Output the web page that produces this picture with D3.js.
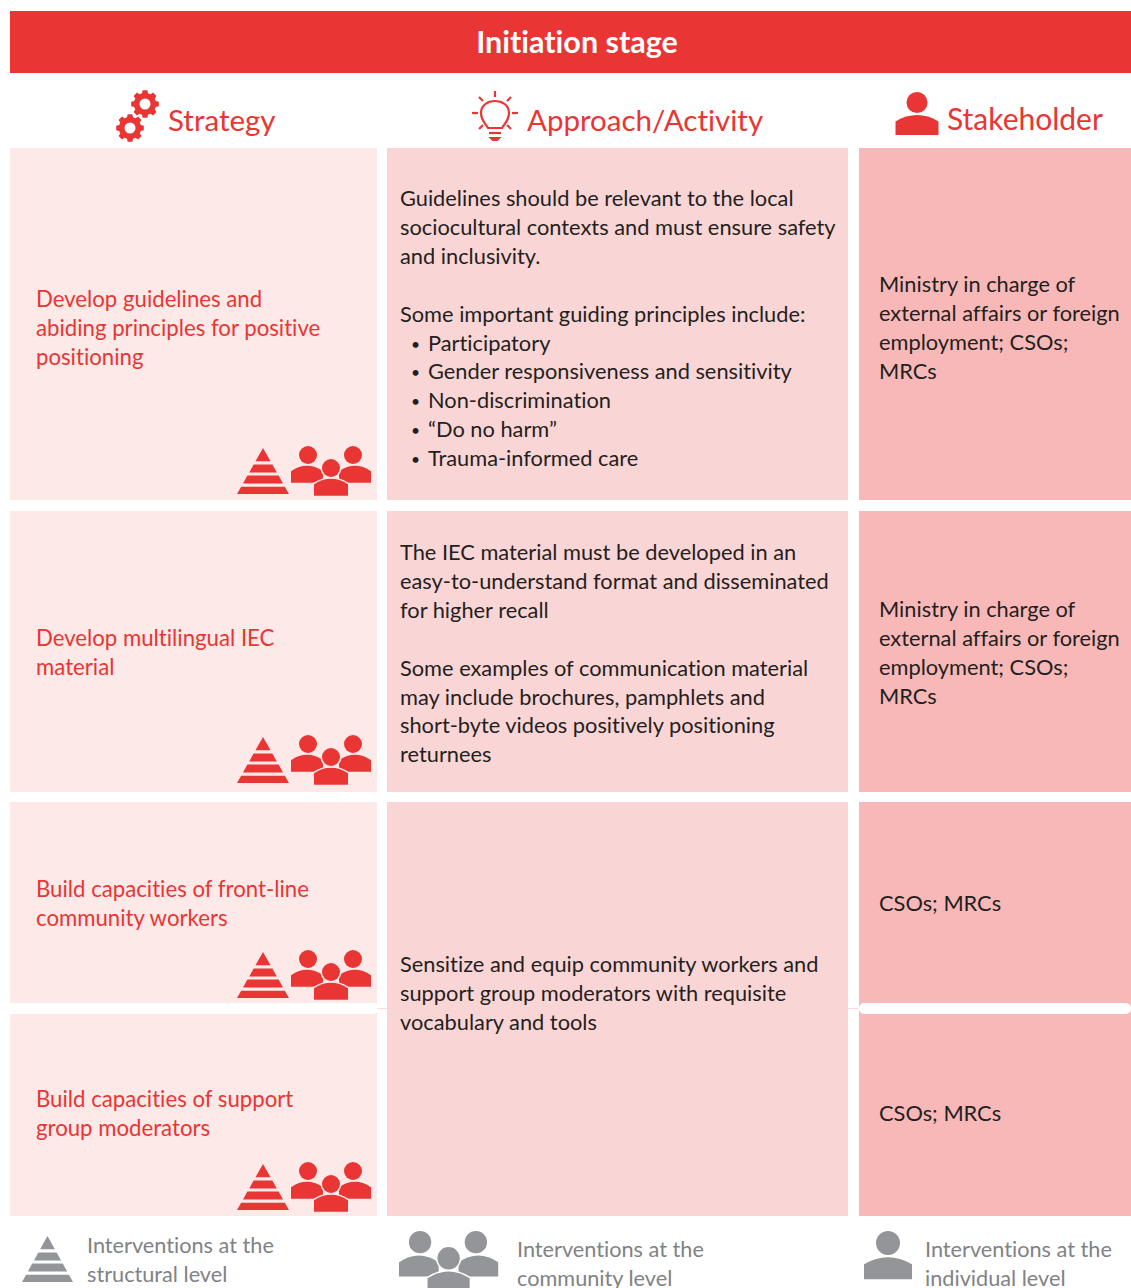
<!DOCTYPE html>
<html>
<head>
<meta charset="utf-8">
<script src="https://cdn.jsdelivr.net/npm/d3@7"></script>
<style>
html,body{margin:0;padding:0;background:#fff;overflow:hidden}
text{font-family:Lato,"Open Sans",sans-serif;font-variant-ligatures:none}
</style>
</head>
<body>
<div id="chart"></div>
<script>
var title = "Initiation stage";
var columns = ["Strategy", "Approach/Activity", "Stakeholder"];

var strategies = [
	["Develop guidelines and", "abiding principles for positive", "positioning"],
	["Develop multilingual IEC", "material"],
	["Build capacities of front-line", "community workers"],
	["Build capacities of support", "group moderators"]
];
var approaches = [
	["Guidelines should be relevant to the local", "sociocultural contexts and must ensure safety", "and inclusivity.", "",
	 "Some important guiding principles include:", "• Participatory", "• Gender responsiveness and sensitivity", "• Non-discrimination", "• “Do no harm”", "• Trauma-informed care"],
	["The IEC material must be developed in an", "easy-to-understand format and disseminated", "for higher recall", "",
	 "Some examples of communication material", "may include brochures, pamphlets and", "short-byte videos positively positioning", "returnees"],
	["Sensitize and equip community workers and", "support group moderators with requisite", "vocabulary and tools"]
];
var stakeholders = [
	["Ministry in charge of", "external affairs or foreign", "employment; CSOs;", "MRCs"],
	["Ministry in charge of", "external affairs or foreign", "employment; CSOs;", "MRCs"],
	["CSOs; MRCs"],
	["CSOs; MRCs"]
];
var legendLabels = [
	["Interventions at the", "structural level"],
	["Interventions at the", "community level"],
	["Interventions at the", "individual level"]
];

var RED = "#e93534", GREY = "#939598", INK = "#231f20", LEGEND_INK = "#808285";
var PALE = ["#fde9e8", "#fad5d6", "#f8b8b8"];
var LINE = 28.9, BODY = 21.8, STRAT = 22.2, LEG = 21.7;

// layout
var colX = d3.scaleOrdinal().domain(columns).range([10, 387, 859]);
var colW = d3.scaleOrdinal().domain(columns).range([367, 461, 272]);
var strategyY = [307, 646, 897, 1107];
var approachY = [206, 560, 972];
var stakeY = [292, 617, 911, 1121];
var iconY = [448, 737, 952, 1164];

var svg = d3.select("#chart").append("svg").attr("width", 1131).attr("height", 1288);

svg.append("rect").attr("x", 10).attr("y", 11).attr("width", 1121).attr("height", 62).attr("fill", RED);
svg.append("text").attr("x", 577).attr("y", 53).attr("text-anchor", "middle")
	.attr("fill", "#fff").attr("font-size", 30.5).attr("font-weight", 700).text(title);

// cells
function cell(col, idx, top, bottom){
	svg.append("rect").attr("x", colX(col)).attr("y", top)
		.attr("width", colW(col)).attr("height", bottom - top).attr("fill", PALE[idx]);
}
columns.forEach(function(c, i){
	cell(c, i, 148, 500);
	cell(c, i, 511, 792);
	cell(c, i, 802, 1216);
});
// row 3 and 4 share one block, split by white tabs with round ends
svg.append("rect").attr("x", 0).attr("y", 1003).attr("width", 378).attr("height", 11).attr("rx", 5).attr("fill", "#fff");
svg.append("rect").attr("x", 859).attr("y", 1003).attr("width", 272).attr("height", 11).attr("rx", 5).attr("fill", "#fff");
// faint hairline only in the gaps beside the middle column
[[377, 387], [848, 859]].forEach(function(g){
	svg.append("line").attr("x1", g[0]).attr("x2", g[1]).attr("y1", 1008.5).attr("y2", 1008.5).attr("stroke", "#fbdcdc").attr("stroke-width", 1);
});

function addLines(lines, x, y, color, size, step){
	lines.forEach(function(s, i){
		if(s == "") return;
		var yy = y + i*step;
		if(s.indexOf("• ") == 0){
			svg.append("text").attr("x", x + 11).attr("y", yy - 1).attr("fill", color).attr("font-size", size*0.72).text("•");
			svg.append("text").attr("x", x + 28).attr("y", yy).attr("fill", color).attr("font-size", size).text(s.substring(2));
		}else{
			svg.append("text").attr("x", x).attr("y", yy).attr("fill", color).attr("font-size", size).text(s);
		}
	});
}

strategies.forEach(function(l, i){ addLines(l, 36, strategyY[i], RED, STRAT, LINE); });
approaches.forEach(function(l, i){ addLines(l, 400, approachY[i], INK, BODY, LINE); });
stakeholders.forEach(function(l, i){ addLines(l, 879, stakeY[i], INK, BODY, LINE); });

// icons
function person(g, cx, bodyCx, top, w, h, r, color, halo){
	var neck = top + 2*r + h*0.1;
	var bottom = neck + h;
	var p = d3.path();
	p.moveTo(bodyCx - w/2, bottom);
	p.lineTo(bodyCx - w/2, neck + h*0.32);
	p.quadraticCurveTo(bodyCx - w/4, neck, bodyCx, neck);
	p.quadraticCurveTo(bodyCx + w/4, neck, bodyCx + w/2, neck + h*0.32);
	p.lineTo(bodyCx + w/2, bottom);
	p.closePath();
	g.append("path").attr("d", p.toString()).attr("fill", color)
		.attr("stroke", halo || "none").attr("stroke-width", halo ? 3 : 0).attr("paint-order", "stroke");
	g.append("circle").attr("cx", cx).attr("cy", top + r).attr("r", r).attr("fill", color)
		.attr("stroke", halo || "none").attr("stroke-width", halo ? 3 : 0).attr("paint-order", "stroke");
}

function pyramid(g, x, y, w, h, color){
	var bands = [[0, 0.29], [0.36, 0.53], [0.6, 0.77], [0.84, 1]];
	bands.forEach(function(b){
		var a = d3.path();
		a.moveTo(x + w/2 - w/2*b[0], y + h*b[0]);
		a.lineTo(x + w/2 + w/2*b[0], y + h*b[0]);
		a.lineTo(x + w/2 + w/2*b[1], y + h*b[1]);
		a.lineTo(x + w/2 - w/2*b[1], y + h*b[1]);
		a.closePath();
		g.append("path").attr("d", a.toString()).attr("fill", color);
	});
}

function group(g, x, y, s, color, halo){
	person(g, x + 17*s, x + 16*s, y, 32*s, 17*s, 9*s, color);
	person(g, x + 62*s, x + 64*s, y, 32*s, 17*s, 9*s, color);
	person(g, x + 40*s, x + 40*s, y + 13*s, 34*s, 17*s, 9*s, color, halo);
}

iconY.forEach(function(y, i){
	var g = svg.append("g");
	pyramid(g, 237, y, 52, 46, RED);
	group(g, 291, y - 2, 1, RED, PALE[0]);
});

function gear(g, cx, cy, R, r){
	var pts = [];
	for(var i = 0; i < 8; i++){
		var a = i*Math.PI/4;
		pts.push([a - 0.27, R*0.8], [a - 0.17, R], [a + 0.17, R], [a + 0.27, R*0.8]);
	}
	g.append("path").attr("d", d3.lineRadial().curve(d3.curveLinearClosed)(pts))
		.attr("transform", "translate(" + cx + "," + cy + ")").attr("fill", RED);
	g.append("circle").attr("cx", cx).attr("cy", cy).attr("r", r).attr("fill", "#fff");
}

var heads = svg.append("g");
gear(heads, 145, 104, 14, 5.5);
gear(heads, 130, 128, 14, 5.5);
heads.append("text").attr("x", 168).attr("y", 131).attr("fill", RED).attr("font-size", 29.5).text(columns[0]);

// bulb
var bulb = heads.append("g").attr("fill", "none").attr("stroke", RED).attr("stroke-width", 2.2);
var bp = d3.path();
bp.moveTo(488, 128);
bp.bezierCurveTo(485, 123, 481, 120, 481, 113);
bp.bezierCurveTo(481, 97, 509, 97, 509, 113);
bp.bezierCurveTo(509, 120, 505, 123, 502, 128);
bp.closePath();
bulb.append("path").attr("d", bp.toString());
[[495, 91, 495, 97], [472, 113, 478, 113], [512, 113, 518, 113], [479, 97, 483, 101], [511, 97, 507, 101], [479, 129, 483, 125], [511, 129, 507, 125], [489, 133, 501, 133]]
	.forEach(function(r){
		bulb.append("line").attr("x1", r[0]).attr("y1", r[1]).attr("x2", r[2]).attr("y2", r[3]);
	});
bulb.append("path").attr("d", "M491,138 L499,138 L497,140 L493,140 Z").attr("fill", RED);
heads.append("text").attr("x", 527).attr("y", 131).attr("fill", RED).attr("font-size", 29.5).text(columns[1]);

person(heads, 917, 917, 92, 43, 20, 10.5, RED);
heads.append("text").attr("x", 947).attr("y", 130).attr("fill", RED).attr("font-size", 30).text(columns[2]);

// legend
var leg = svg.append("g");
pyramid(leg, 22, 1236, 51, 46, GREY);
group(leg, 399, 1231, 1.24, GREY, "#fff");
person(leg, 888, 888, 1231, 48, 22, 12, GREY);
addLines(legendLabels[0], 87, 1253, LEGEND_INK, LEG, 29);
addLines(legendLabels[1], 517, 1257, LEGEND_INK, LEG, 29);
addLines(legendLabels[2], 925, 1257, LEGEND_INK, LEG, 29);
</script>
</body>
</html>
